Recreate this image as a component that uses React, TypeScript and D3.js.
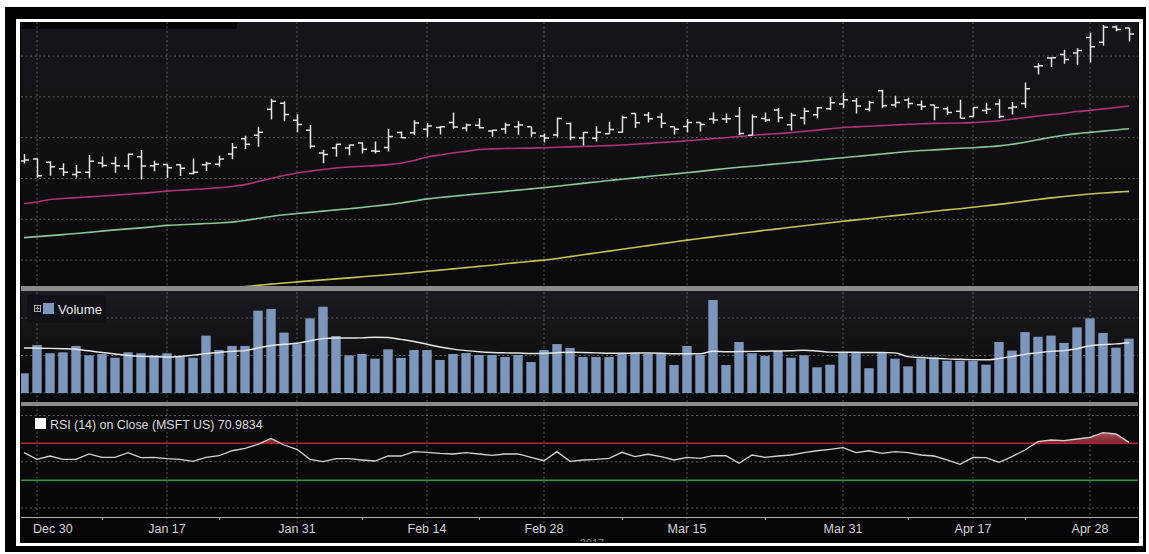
import React from 'react';
import * as d3 from 'd3';

const dates = [
  'Dec 29', 'Dec 30',
  'Jan 3', 'Jan 4', 'Jan 5', 'Jan 6', 'Jan 9', 'Jan 10', 'Jan 11', 'Jan 12', 'Jan 13',
  'Jan 17', 'Jan 18', 'Jan 19', 'Jan 20',
  'Jan 23', 'Jan 24', 'Jan 25', 'Jan 26', 'Jan 27',
  'Jan 30', 'Jan 31',
  'Feb 1', 'Feb 2', 'Feb 3',
  'Feb 6', 'Feb 7', 'Feb 8', 'Feb 9', 'Feb 10',
  'Feb 13', 'Feb 14', 'Feb 15', 'Feb 16', 'Feb 17',
  'Feb 21', 'Feb 22', 'Feb 23', 'Feb 24',
  'Feb 27', 'Feb 28',
  'Mar 1', 'Mar 2', 'Mar 3',
  'Mar 6', 'Mar 7', 'Mar 8', 'Mar 9', 'Mar 10',
  'Mar 13', 'Mar 14', 'Mar 15', 'Mar 16', 'Mar 17',
  'Mar 20', 'Mar 21', 'Mar 22', 'Mar 23', 'Mar 24',
  'Mar 27', 'Mar 28', 'Mar 29', 'Mar 30', 'Mar 31',
  'Apr 3', 'Apr 4', 'Apr 5', 'Apr 6', 'Apr 7',
  'Apr 10', 'Apr 11', 'Apr 12', 'Apr 13',
  'Apr 17', 'Apr 18', 'Apr 19', 'Apr 20', 'Apr 21',
  'Apr 24', 'Apr 25', 'Apr 26', 'Apr 27', 'Apr 28',
  'May 1', 'May 2', 'May 3',
];

const open = [
  62.86, 62.96,
  62.79, 62.48, 62.19, 62.30, 62.76, 62.73, 62.61, 63.06, 62.62,
  62.68, 62.67, 62.24, 62.67,
  62.70, 63.20, 63.95, 64.12, 65.39,
  65.69, 64.86,
  64.36, 63.25, 63.50,
  63.50, 63.74, 63.35, 63.52, 64.25,
  64.24, 64.41, 64.50, 64.74, 64.47,
  64.61, 64.33, 64.42, 64.53,
  64.54, 64.08,
  64.13, 64.69, 63.99,
  63.97, 64.19, 64.26, 65.19, 65.11,
  65.01, 64.53, 64.55, 64.75, 64.91,
  64.91, 65.05, 64.12, 64.94, 65.36,
  64.63, 64.96, 65.12, 65.42, 65.65,
  65.81, 65.39, 66.30, 65.60, 65.85,
  65.61, 65.60, 65.42, 65.29,
  65.04, 65.33, 65.65, 65.46, 65.67,
  67.48, 67.90, 68.08, 68.15, 68.91,
  68.68, 69.42, 69.38,
];

const high = [
  63.20, 62.99,
  62.84, 62.75, 62.66, 63.15, 63.08, 63.07, 63.23, 63.40, 62.87,
  62.70, 62.70, 62.98, 62.82,
  63.12, 63.74, 64.10, 64.54, 65.91,
  65.79, 65.15,
  64.62, 63.41, 63.70,
  63.65, 63.78, 63.81, 64.44, 64.30,
  64.86, 64.72, 64.57, 65.24, 64.69,
  64.95, 64.39, 64.73, 64.80,
  64.54, 64.20,
  64.99, 64.75, 64.28,
  64.56, 64.78, 65.08, 65.20, 65.26,
  65.20, 64.55, 64.92, 64.76, 65.24,
  65.18, 65.50, 65.14, 65.24, 65.45,
  65.22, 65.47, 65.50, 65.98, 66.19,
  65.94, 65.81, 66.35, 66.06, 65.96,
  65.82, 65.61, 65.51, 65.86,
  65.49, 65.71, 65.88, 65.75, 66.70,
  67.66, 67.91, 68.31, 68.38, 69.14,
  69.52, 69.50, 69.38,
];

const low = [
  62.73, 62.03,
  62.13, 62.12, 62.03, 62.04, 62.54, 62.28, 62.43, 61.95, 62.35,
  62.03, 62.12, 62.19, 62.37,
  62.57, 62.94, 63.45, 63.55, 64.89,
  64.80, 64.26,
  63.47, 62.75, 63.07,
  63.14, 63.23, 63.22, 63.32, 63.98,
  64.13, 64.02, 64.16, 64.44, 64.30,
  64.45, 64.05, 64.19, 64.14,
  64.05, 63.76,
  64.02, 63.88, 63.62,
  63.81, 64.19, 64.25, 64.48, 64.75,
  64.48, 64.15, 64.25, 64.30, 64.68,
  64.72, 64.12, 64.12, 64.77, 64.76,
  64.35, 64.65, 64.95, 65.36, 65.45,
  65.19, 65.28, 65.44, 65.48, 65.44,
  65.36, 64.85, 65.11, 64.95,
  65.01, 65.16, 64.95, 65.14, 65.45,
  67.10, 67.46, 67.62, 67.58, 67.69,
  68.50, 69.22, 68.71,
];

const close = [
  62.90, 62.14,
  62.58, 62.30, 62.30, 62.84, 62.64, 62.62, 63.19, 62.61, 62.70,
  62.53, 62.50, 62.30, 62.74,
  62.96, 63.52, 63.68, 64.27, 65.78,
  65.13, 64.65,
  63.58, 63.17, 63.68,
  63.64, 63.43, 63.34, 64.06, 64.00,
  64.72, 64.57, 64.53, 64.52, 64.62,
  64.49, 64.36, 64.62, 64.62,
  64.23, 63.98,
  64.94, 64.01, 64.25,
  64.27, 64.40, 64.99, 64.73, 64.93,
  64.71, 64.41, 64.75, 64.64, 64.87,
  64.93, 64.21, 65.03, 64.87, 64.98,
  65.10, 65.29, 65.47, 65.71, 65.86,
  65.55, 65.73, 65.56, 65.73, 65.68,
  65.53, 65.48, 65.23, 64.95,
  65.48, 65.39, 65.04, 65.50, 66.40,
  67.53, 67.92, 67.83, 68.27, 68.46,
  69.41, 69.30, 69.08,
];

const ma50 = [
  60.77, 60.85, 60.97, 61.02, 61.06, 61.10, 61.14, 61.18, 61.23, 61.27,
  61.32, 61.38, 61.42, 61.46, 61.50, 61.55, 61.61, 61.70, 61.85, 62.00,
  62.15, 62.27, 62.36, 62.44, 62.51, 62.56, 62.60, 62.63, 62.68, 62.75,
  62.88, 63.05, 63.15, 63.25, 63.33, 63.42, 63.45, 63.47, 63.48, 63.49,
  63.51, 63.53, 63.55, 63.57, 63.59, 63.61, 63.64, 63.68, 63.72, 63.76,
  63.80, 63.85, 63.90, 63.95, 64.00, 64.06, 64.11, 64.16, 64.20, 64.25,
  64.31, 64.37, 64.44, 64.50, 64.53, 64.56, 64.59, 64.62, 64.66, 64.68,
  64.70, 64.71, 64.72, 64.74, 64.78, 64.83, 64.90, 64.98, 65.06, 65.13,
  65.20, 65.28, 65.34, 65.41, 65.48, 65.55,
];

const ma100 = [
  59.10, 59.15, 59.20, 59.25, 59.30, 59.36, 59.42, 59.48, 59.53, 59.58,
  59.64, 59.70, 59.73, 59.76, 59.79, 59.82, 59.86, 59.94, 60.04, 60.14,
  60.22, 60.28, 60.34, 60.40, 60.46, 60.52, 60.58, 60.65, 60.72, 60.80,
  60.90, 61.00, 61.07, 61.13, 61.19, 61.25, 61.31, 61.37, 61.43, 61.49,
  61.55, 61.62, 61.69, 61.76, 61.83, 61.90, 61.96, 62.03, 62.10, 62.16,
  62.22, 62.28, 62.35, 62.42, 62.49, 62.55, 62.60, 62.66, 62.72, 62.78,
  62.84, 62.90, 62.96, 63.02, 63.08, 63.14, 63.20, 63.26, 63.32, 63.37,
  63.40, 63.44, 63.48, 63.51, 63.55, 63.60, 63.68, 63.78, 63.90, 64.02,
  64.12, 64.20, 64.26, 64.32, 64.38, 64.44,
];

const ma200 = [
  null, null, null, null, null, null, null, null, null, null,
  null, null, null, 56.45, 56.52, 56.58, 56.64, 56.70, 56.76, 56.82,
  56.88, 56.93, 56.98, 57.03, 57.08, 57.13, 57.18, 57.23, 57.28, 57.33,
  57.39, 57.45, 57.51, 57.57, 57.63, 57.69, 57.75, 57.82, 57.88, 57.94,
  58.00, 58.08, 58.17, 58.26, 58.35, 58.44, 58.53, 58.62, 58.71, 58.80,
  58.89, 58.98, 59.06, 59.14, 59.22, 59.30, 59.38, 59.46, 59.53, 59.61,
  59.68, 59.76, 59.83, 59.90, 59.97, 60.04, 60.11, 60.18, 60.25, 60.32,
  60.39, 60.46, 60.52, 60.59, 60.66, 60.73, 60.81, 60.89, 60.97, 61.05,
  61.12, 61.18, 61.24, 61.29, 61.33, 61.37,
];

const volume = [
  10.5, 25.6, 21.2, 21.7, 25.1, 20.1, 20.8, 18.8, 21.7, 21.2,
  20.1, 21.2, 19.7, 18.8, 30.6, 22.9, 25.1, 25.1, 43.9, 44.8,
  32.2, 26.1, 39.8, 46.0, 30.4, 20.1, 20.8, 18.3, 23.3, 18.7,
  22.9, 22.9, 17.6, 20.8, 21.3, 20.3, 20.3, 19.2, 20.3, 16.5,
  22.9, 26.1, 24.0, 19.2, 19.2, 19.2, 21.3, 21.3, 20.8, 20.8,
  14.9, 25.1, 20.3, 49.6, 14.9, 27.2, 21.2, 19.7, 22.4, 18.8,
  20.1, 13.7, 15.1, 21.3, 21.3, 13.2, 21.3, 18.3, 14.2, 18.3,
  19.0, 17.2, 17.2, 17.2, 15.1, 27.2, 22.6, 32.5, 30.0, 30.6,
  26.7, 35.0, 39.8, 32.0, 24.2, 29.0,
];

const volumeAvg = [
  24.0, 23.9, 23.8, 23.6, 23.3, 22.5, 21.6, 20.8, 20.0, 19.6,
  19.4, 19.2, 19.5, 20.2, 21.0, 21.6, 22.2, 22.6, 24.0, 25.3,
  26.0, 26.5, 27.8, 29.0, 29.3, 29.3, 29.4, 29.8, 29.6, 28.6,
  27.5, 26.0, 24.5, 23.4, 22.6, 22.0, 21.6, 21.4, 21.3, 21.1,
  21.2, 21.5, 21.7, 21.6, 21.4, 21.2, 21.2, 21.3, 21.3, 21.2,
  20.9, 21.0, 20.9, 22.3, 22.0, 22.1, 22.2, 22.3, 22.4, 22.5,
  22.8, 22.4, 21.8, 21.7, 21.7, 21.6, 21.6, 21.4, 19.4, 18.9,
  18.6, 18.2, 18.0, 17.8, 17.7, 18.4, 19.4, 20.6, 21.4, 22.2,
  22.6, 23.6, 25.2, 25.8, 26.2, 26.8,
];

const rsi = [
  59.8, 52.6, 56.2, 52.6, 52.6, 58.4, 54.8, 54.8, 59.8, 54.4,
  54.8, 53.3, 52.6, 50.5, 54.8, 56.5, 61.9, 64.5, 68.8, 75.3,
  68.1, 63.4, 52.6, 50.1, 53.3, 53.3, 51.9, 50.8, 56.2, 56.2,
  60.9, 60.2, 59.1, 58.4, 59.8, 58.4, 57.0, 58.4, 58.4, 54.8,
  51.1, 60.9, 50.5, 51.9, 52.6, 53.7, 60.2, 55.5, 58.1, 55.5,
  51.9, 54.8, 53.7, 56.5, 56.5, 48.3, 57.3, 54.8, 56.2, 57.3,
  59.8, 61.9, 63.4, 65.2, 59.8, 61.9, 59.1, 60.9, 59.8, 57.3,
  56.2, 51.9, 47.2, 54.8, 54.4, 49.4, 55.5, 62.7, 71.7, 73.5,
  72.8, 74.6, 76.4, 81.4, 80.0, 70.98,
];

const tickLabels = ['Dec 30', 'Jan 17', 'Jan 31', 'Feb 14', 'Feb 28', 'Mar 15', 'Mar 31', 'Apr 17', 'Apr 28'];
const minorTicks = ['Jan 9', 'Jan 23', 'Feb 7', 'Feb 21', 'Mar 8', 'Mar 23', 'Apr 7', 'Apr 21'];
const priceGrid = [58, 60, 62, 64, 66, 68];
const volumeGrid = [0, 20, 40];
const rsiGrid = [0, 50, 100];
const rsiUpper = 70;
const rsiLower = 30;
const rsiLegend = 'RSI (14) on Close (MSFT US) 70.9834';
const yearLabel = '2017';

const FONT = '"Liberation Sans", Arial, sans-serif';

export default function App() {
  const L = 21, R = 1138;
  const priceTop = 22, priceBot = 286;
  const volTop = 291, volBot = 402;
  const rsiTop = 406, rsiBot = 517;

  const x = d3.scaleLinear().domain([-3 / 13, 1114 / 13]).range([L, R]);
  const yP = d3.scaleLinear().domain([56.73, 69.67]).range([priceBot, priceTop]);
  const yV = d3.scaleLinear().domain([0, 40]).range([393, 318]);
  const yR = d3.scaleLinear().domain([0, 100]).range([508, 415.5]);
  const idx = dates.map((_, i) => i);

  const maLine = (arr: (number | null)[]) =>
    d3.line<number>()
      .defined((i) => arr[i] != null)
      .x((i) => x(i))
      .y((i) => yP(arr[i] as number))
      .curve(d3.curveMonotoneX)(idx) || '';

  const volAvgPath = d3.line<number>().x((i) => x(i)).y((i) => yV(volumeAvg[i])).curve(d3.curveMonotoneX)(idx) || '';
  const rsiPath = d3.line<number>().x((i) => x(i)).y((i) => yR(rsi[i]))(idx) || '';
  const rsiArea = d3.area<number>()
    .x((i) => x(i))
    .y0(() => yR(rsiUpper))
    .y1((i) => yR(Math.max(rsi[i], rsiUpper)))(idx) || '';

  const bw = 9.4;
  const tk = 4.5;
  const gridColor = '#6a6a6a';

  const vGrid = tickLabels.map((d) => x(dates.indexOf(d)));

  return (
    <svg width={1149} height={554} style={{ position: 'absolute', left: 0, top: 0, display: 'block' }}
      fontFamily={FONT}>
      <defs>
        <linearGradient id="gPrice" x1="0" y1="0" x2="0" y2="1">
          <stop offset="0" stopColor="#16151b" />
          <stop offset="1" stopColor="#09090c" />
        </linearGradient>
        <linearGradient id="gVol" x1="0" y1="0" x2="0" y2="1">
          <stop offset="0" stopColor="#1b1a20" />
          <stop offset="1" stopColor="#08080b" />
        </linearGradient>
        <linearGradient id="gRsi" x1="0" y1="0" x2="0" y2="1">
          <stop offset="0" stopColor="#0b0b0e" />
          <stop offset="1" stopColor="#060608" />
        </linearGradient>
        <linearGradient id="gRsiFill" x1="0" y1="0" x2="0" y2="1">
          <stop offset="0" stopColor="#c55560" />
          <stop offset="1" stopColor="#7a2a32" />
        </linearGradient>
        <clipPath id="cPrice"><rect x={L} y={priceTop} width={R - L} height={priceBot - priceTop} /></clipPath>
        <clipPath id="cVol"><rect x={L} y={volTop} width={R - L} height={volBot - volTop} /></clipPath>
        <clipPath id="cRsi"><rect x={L} y={rsiTop} width={R - L} height={rsiBot - rsiTop} /></clipPath>
        <clipPath id="cAll"><rect x={20} y={22} width={1119} height={520} /></clipPath>
      </defs>

      <rect x={0} y={0} width={1149} height={554} fill="#ffffff" />
      <rect x={5} y={7} width={1141} height={545} fill="#000000" />
      <rect x={16} y={19} width={1127} height={527} fill="#ffffff" />
      <rect x={20} y={22} width={1119} height={521} fill="#050507" />

      {/* pane backgrounds */}
      <rect x={L} y={priceTop} width={R - L} height={priceBot - priceTop} fill="url(#gPrice)" />
      <rect x={L} y={volTop} width={R - L} height={volBot - volTop} fill="url(#gVol)" />
      <rect x={L} y={rsiTop} width={R - L} height={rsiBot - rsiTop} fill="url(#gRsi)" />
      <rect x={22} y={22} width={215} height={7} fill="#060608" />

      {/* horizontal grid */}
      <g stroke={gridColor} strokeWidth={1} strokeDasharray="2,2.5" opacity={0.85}>
        {priceGrid.map((p) => <line key={'pg' + p} x1={L} x2={R} y1={yP(p)} y2={yP(p)} />)}
        {volumeGrid.map((v) => <line key={'vg' + v} x1={L} x2={R} y1={yV(v)} y2={yV(v)} />)}
        {rsiGrid.map((v) => <line key={'rg' + v} x1={L} x2={R} y1={yR(v)} y2={yR(v)} />)}
      </g>
      {/* vertical grid */}
      <g stroke={gridColor} strokeWidth={1} strokeDasharray="2,2.5" opacity={0.85}>
        {vGrid.map((gx, i) => <line key={'vgl' + i} x1={gx} x2={gx} y1={priceTop} y2={rsiBot + 6} />)}
      </g>

      {/* moving averages */}
      <g clipPath="url(#cPrice)" fill="none" strokeWidth={1.6}>
        <path d={maLine(ma200)} stroke="#c9c253" />
        <path d={maLine(ma100)} stroke="#86c896" />
        <path d={maLine(ma50)} stroke="#ad3570" />
      </g>

      {/* OHLC bars */}
      <g clipPath="url(#cPrice)" stroke="#e4e4e6" strokeWidth={1.5} fill="none">
        {idx.map((i) => {
          const cx = Math.round(x(i)) + 0.5;
          return (
            <path key={'b' + i}
              d={`M${cx},${yP(high[i])}V${yP(low[i])}M${cx - tk},${yP(open[i])}H${cx}M${cx},${yP(close[i])}H${cx + tk}`} />
          );
        })}
      </g>

      {/* volume */}
      <g clipPath="url(#cVol)">
        {idx.map((i) => (
          <rect key={'v' + i} x={x(i) - bw / 2} y={yV(volume[i])} width={bw} height={yV(0) - yV(volume[i])} fill="#7d96bb" />
        ))}
        <path d={volAvgPath} fill="none" stroke="#e6e6e6" strokeWidth={1.5} />
      </g>
      <rect x={27} y={295} width={79} height={28} rx={3} fill="#111015" opacity={0.9} />
      <rect x={34.5} y={305.5} width={6} height={6} fill="none" stroke="#a8a8a8" strokeWidth={1} />
      <line x1={35.5} x2={39.5} y1={308.5} y2={308.5} stroke="#a8a8a8" strokeWidth={1} />
      <line x1={37.5} x2={37.5} y1={306.5} y2={310.5} stroke="#a8a8a8" strokeWidth={1} />
      <rect x={43} y={303} width={11} height={11} fill="#7d96bb" />
      <text x={58} y={314} fontSize={13.2} fill="#ececec">Volume</text>

      {/* RSI */}
      <g clipPath="url(#cRsi)">
        <path d={rsiArea} fill="url(#gRsiFill)" opacity={0.9} />
        <line x1={L} x2={R} y1={yR(rsiUpper)} y2={yR(rsiUpper)} stroke="#b3262f" strokeWidth={1.6} />
        <line x1={L} x2={R} y1={yR(rsiLower)} y2={yR(rsiLower)} stroke="#2f9a3c" strokeWidth={1.6} />
        <path d={rsiPath} fill="none" stroke="#d2d2d4" strokeWidth={1.3} />
      </g>
      <rect x={35} y={418} width={11} height={11} fill="#ffffff" />
      <text x={50} y={429} fontSize={12.4} fill="#dcdcdc">{rsiLegend}</text>

      {/* separators */}
      <rect x={L} y={priceBot} width={R - L} height={5} fill="#8b8b8d" />
      <rect x={L} y={volBot} width={R - L} height={4} fill="#8b8b8d" />

      {/* x axis */}
      <line x1={L} x2={R} y1={rsiBot + 0.5} y2={rsiBot + 0.5} stroke="#b0b0b0" strokeWidth={1} />
      <g stroke="#b0b0b0" strokeWidth={1}>
        {minorTicks.map((d) => {
          const mx = Math.round(x(dates.indexOf(d))) + 0.5;
          return <line key={'mt' + d} x1={mx} x2={mx} y1={rsiBot} y2={rsiBot + 3} />;
        })}
      </g>
      <g fontSize={12.5} fill="#d4d4d4">
        {tickLabels.map((d, i) => (
          <text key={'tl' + d} x={i === 0 ? x(dates.indexOf(d)) - 4 : x(dates.indexOf(d))} y={533}
            textAnchor={i === 0 ? 'start' : 'middle'}>{d}</text>
        ))}
      </g>
      <g clipPath="url(#cAll)">
        <text x={x(dates.indexOf('Mar 6')) - 4} y={547} fontSize={11} fill="#8a8a8a" textAnchor="middle">{yearLabel}</text>
      </g>
    </svg>
  );
}
